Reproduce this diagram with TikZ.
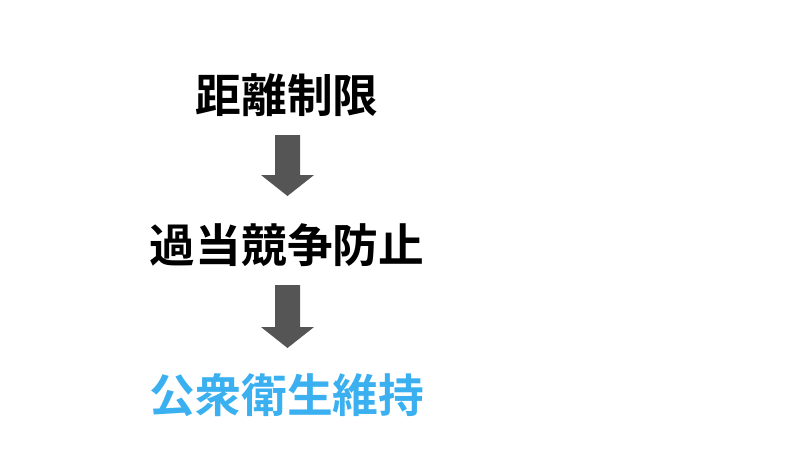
\documentclass[tikz,border=0pt]{standalone}
\usepackage{fontspec}
\newfontfamily\jp{Noto Sans CJK JP Bold}
\definecolor{arrowgray}{HTML}{555555}
\definecolor{bluetxt}{HTML}{3BB0F0}
\tikzset{lbl/.style={font=\jp\fontsize{13pt}{15pt}\selectfont,inner sep=0pt},
blockarrow/.style={fill=arrowgray,draw=none}}
\begin{document}
\begin{tikzpicture}[x=0.01cm,y=-0.01cm]
\useasboundingbox (0,0) rectangle (800,450);
\node[lbl] (a) at (287,95) {距離制限};
\node[lbl] (b) at (287,245) {過当競争防止};
\node[lbl,text=bluetxt] (c) at (287,395) {公衆衛生維持};
\fill[blockarrow] (275,135) -- (300,135) -- (300,175) -- (314,175) -- (287.5,196) -- (261,175) -- (275,175) -- cycle;
\fill[blockarrow] (275,285) -- (300,285) -- (300,327) -- (314,327) -- (287.5,348) -- (261,327) -- (275,327) -- cycle;
\end{tikzpicture}
\end{document}
